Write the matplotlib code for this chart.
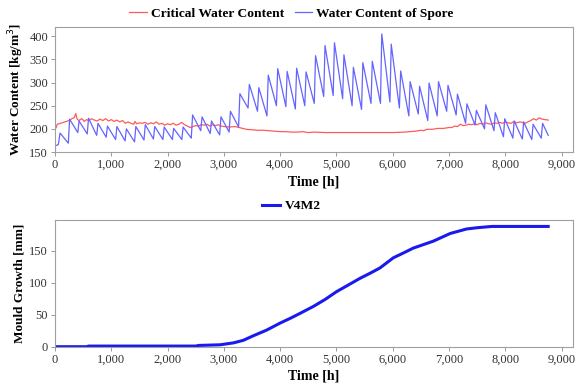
import matplotlib
matplotlib.use("Agg")
import matplotlib.pyplot as plt
from matplotlib.ticker import FuncFormatter

# water content of spore, read as trough / peak pairs (weekly cycle)
spore_t = [0, 60, 90, 237, 260, 405, 428, 573, 596, 741, 764, 909, 932,
           1077, 1100, 1245, 1268, 1413, 1436, 1581, 1604, 1749, 1772,
           1917, 1940, 2085, 2108, 2253, 2276, 2421, 2444, 2589, 2612,
           2757, 2780, 2925, 2948, 3093, 3116, 3261, 3284, 3429, 3452,
           3597, 3620, 3765, 3788, 3933, 3956, 4101, 4124, 4269, 4292,
           4437, 4460, 4605, 4628, 4773, 4796, 4941, 4964, 5109, 5132,
           5277, 5300, 5445, 5468, 5613, 5636, 5781, 5804, 5949, 5972,
           6117, 6140, 6285, 6308, 6453, 6476, 6621, 6644, 6789, 6812,
           6957, 6980, 7125, 7148, 7293, 7316, 7461, 7484, 7629, 7652,
           7797, 7820, 7965, 7988, 8133, 8156, 8301, 8324, 8469, 8492,
           8637, 8660, 8760]
spore_v = [163, 166, 191, 169, 221, 192, 217, 189, 223, 186, 212, 182, 206,
           177, 205, 174, 200, 172, 205, 176, 209, 178, 205,
           177, 204, 177, 201, 177, 204, 180, 230, 196, 226,
           190, 217, 187, 226, 193, 238, 204, 276, 245, 296,
           238, 289, 228, 316, 250, 330, 248, 324, 243, 331,
           250, 323, 255, 358, 270, 380, 272, 386, 265, 360,
           250, 333, 242, 343, 255, 346, 255, 405, 258, 383,
           245, 325, 228, 302, 232, 292, 218, 299, 228, 302,
           238, 294, 230, 275, 212, 254, 208, 240, 200, 252,
           196, 235, 183, 222, 180, 217, 178, 215, 177, 210,
           180, 212, 186]

# critical water content
crit_t = [0, 20, 40, 100, 150, 200, 250, 300, 340, 370, 390, 420, 480, 520,
          560, 600, 650, 700, 750, 800, 850, 900, 950, 1000, 1050, 1100,
          1150, 1200, 1250, 1300, 1350, 1400, 1420, 1450, 1500, 1550, 1600,
          1650, 1700, 1750, 1800, 1850, 1900, 1950, 2000, 2050, 2100, 2150,
          2200, 2250, 2300, 2350, 2400, 2450, 2500, 2550, 2600, 2650, 2700,
          2750, 2800, 2850, 2900, 2950, 3000, 3100, 3200, 3300, 3400, 3500,
          3600, 3700, 3800, 3900, 4000, 4100, 4200, 4300, 4400, 4500, 4600,
          4800, 5000, 5200, 5400, 5600, 5800, 6000, 6200, 6300, 6400, 6500,
          6550, 6600, 6700, 6800, 6900, 7000, 7050, 7100, 7150, 7200, 7250,
          7300, 7350, 7400, 7450, 7500, 7550, 7600, 7650, 7700, 7750, 7800,
          7850, 7900, 7950, 8000, 8050, 8100, 8150, 8200, 8250, 8300, 8350,
          8400, 8450, 8500, 8550, 8600, 8650, 8700, 8760]
crit_v = [206, 202, 210, 212, 214, 216, 218, 222, 224, 233, 222, 218, 222, 216,
          220, 218, 222, 219, 217, 221, 218, 222, 217, 220, 216, 219,
          215, 218, 212, 215, 212, 210, 216, 211, 213, 212, 214,
          210, 213, 211, 215, 210, 212, 208, 211, 209, 212, 208,
          210, 214, 209, 206, 203, 205, 207, 206, 209, 208, 210,
          206, 209, 207, 209, 206, 205, 204, 205, 202, 199, 198,
          197, 197, 196, 195, 194, 194, 193, 193, 194, 192, 193,
          192, 192, 192, 192, 192, 192, 192, 193, 194, 195, 197,
          196, 199, 199, 201, 201, 203, 203, 206, 205, 210, 207,
          208, 210, 209, 211, 209, 212, 210, 213, 211, 210, 213,
          212, 214, 212, 215, 213, 212, 216, 213, 215, 214, 212,
          215, 218, 222, 219, 224, 221, 220, 219]

# mould growth V4M2
mould_t = [0, 560, 600, 2500, 2550, 2930, 3170, 3345, 3520, 3760, 4000, 4170,
           4350, 4590, 4800, 5000, 5200, 5420, 5600, 5770, 6010, 6200, 6360,
           6720, 7020, 7310, 7500, 7760, 8760]
mould_v = [0, 0, 1, 1, 2, 3, 6, 10, 17, 26, 37, 44,
           52, 63, 74, 86, 96, 107, 115, 123, 139, 147, 154,
           165, 177, 184, 186, 188, 188]

x_ticks = [0, 1000, 2000, 3000, 4000, 5000, 6000, 7000, 8000, 9000]

serif = ["Liberation Serif", "DejaVu Serif"]
plt.rcParams["font.family"] = serif
plt.rcParams["font.size"] = 9

comma = FuncFormatter(lambda v, p: f"{int(v):,}")
legend_font = {"family": serif, "weight": "bold", "size": 9.7}

fig = plt.figure(figsize=(5.83, 3.88), dpi=100)
ax1 = fig.add_axes([0.0943, 0.6082, 0.8885, 0.3222])
ax2 = fig.add_axes([0.0943, 0.1064, 0.8885, 0.3265])

l1, = ax1.plot(crit_t, crit_v, color="#ff5a5a", linewidth=0.9,
               label="Critical Water Content")
l2, = ax1.plot(spore_t, spore_v, color="#6464ff", linewidth=0.9,
               label="Water Content of Spore")
ax1.set_xlim(0, 9200)
ax1.set_ylim(150, 420)
ax1.set_yticks([150, 200, 250, 300, 350, 400])
ax1.set_xlabel("Time [h]", fontsize=10, fontweight="bold", labelpad=3)
ax1.set_ylabel("Water Content [kg/m$^3$]", fontsize=9.5, fontweight="bold")
ax1.yaxis.set_label_coords(-0.056, 0.5)

l3, = ax2.plot(mould_t, mould_v, color="#1a1aee", linewidth=2.2, label="V4M2")
ax2.set_xlim(0, 9200)
ax2.set_ylim(0, 198)
ax2.set_yticks([0, 50, 100, 150])
ax2.set_xlabel("Time [h]", fontsize=10, fontweight="bold", labelpad=3)
ax2.set_ylabel("Mould Growth [mm]", fontsize=9.5, fontweight="bold")
ax2.yaxis.set_label_coords(-0.056, 0.5)

# legends sit centred on the figure, above each panel
fig.legend(handles=[l1, l2], loc="center", bbox_to_anchor=(0.5, 1 - 14 / 388),
           ncol=2, frameon=False, handlelength=1.3, handletextpad=0.3,
           columnspacing=0.8, prop=legend_font)
fig.legend(handles=[l3], loc="center", bbox_to_anchor=(0.5, 1 - 206 / 388),
           frameon=False, handlelength=1.3, handletextpad=0.4,
           prop=legend_font)

for ax in (ax1, ax2):
    ax.set_xticks(x_ticks)
    ax.xaxis.set_major_formatter(comma)
    ax.tick_params(length=3, width=0.6, color="#888888", pad=2,
                   labelsize=9, labelcolor="#333333")
    for s in ax.spines.values():
        s.set_color("#a0a0a0")
        s.set_linewidth(0.8)

fig.savefig("out.png", dpi=100)
